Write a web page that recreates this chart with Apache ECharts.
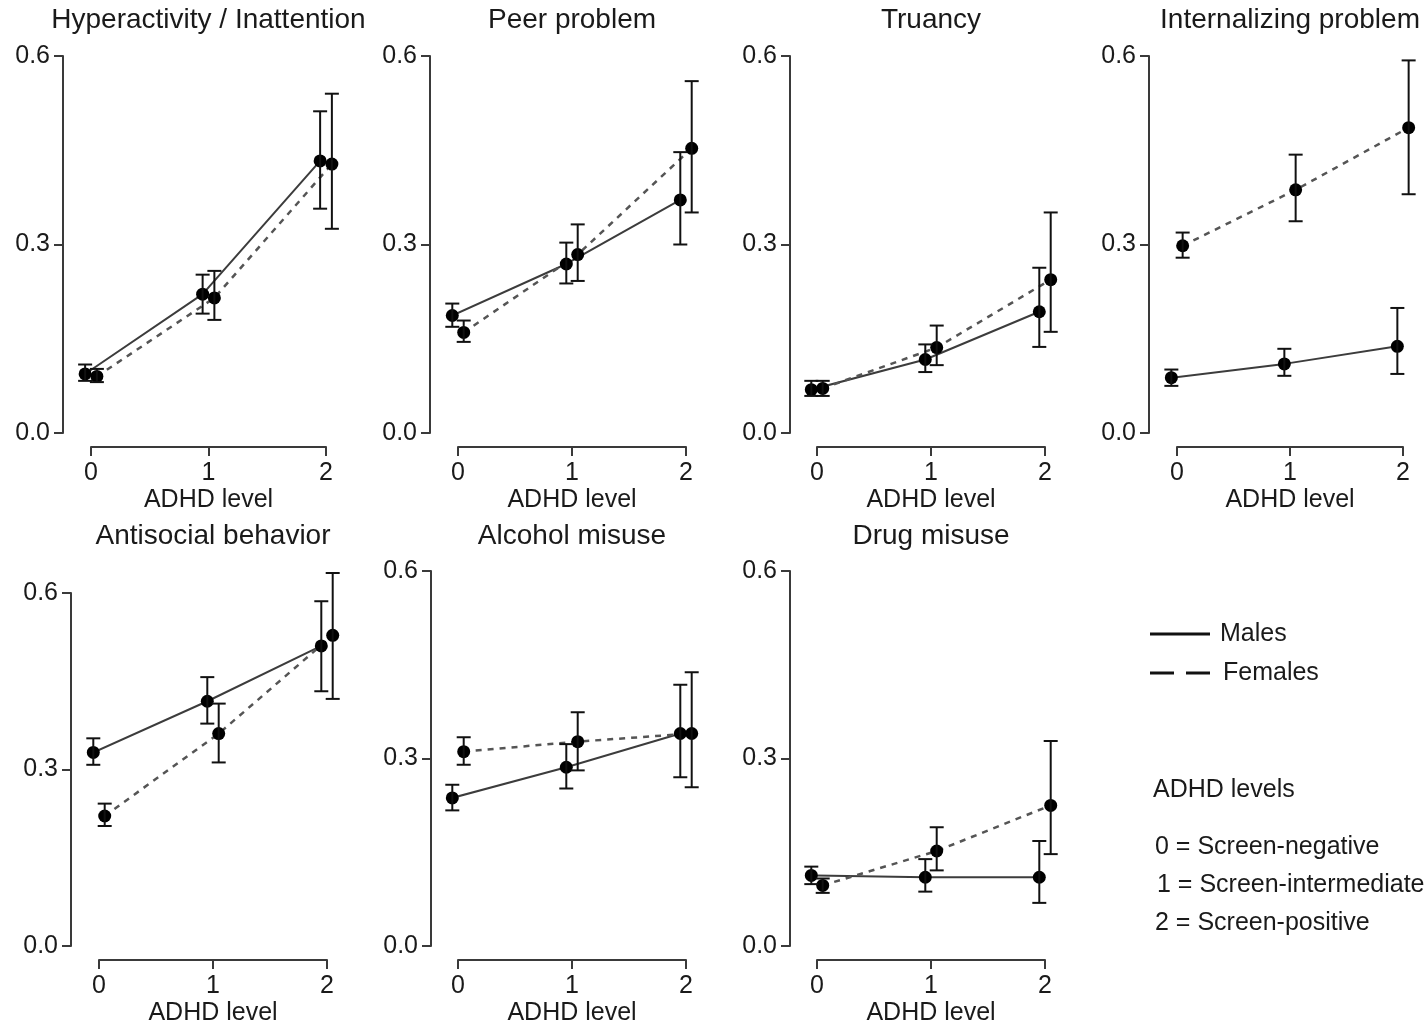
<!DOCTYPE html>
<html>
<head>
<meta charset="utf-8">
<script src="https://cdn.jsdelivr.net/npm/echarts@6/dist/echarts.min.js"></script>
<style>
html,body{margin:0;padding:0;background:#fff;}
#chart{width:1426px;height:1027px;}
</style>
</head>
<body>
<div id="chart"></div>
<script>
// ---- DATA ----
const panelTitles = ["Hyperactivity / Inattention", "Peer problem", "Truancy", "Internalizing problem",
                     "Antisocial behavior", "Alcohol misuse", "Drug misuse"];
const adhdLevels = [0, 1, 2];
const yTicks = [0.0, 0.3, 0.6];
const xAxisTitle = "ADHD level";

const maleMean = [
  [0.094, 0.221, 0.433],
  [0.187, 0.269, 0.371],
  [0.069, 0.117, 0.193],
  [0.088, 0.110, 0.138],
  [0.329, 0.416, 0.510],
  [0.237, 0.286, 0.340],
  [0.113, 0.110, 0.110]
];
const maleLow = [
  [0.083, 0.190, 0.357],
  [0.169, 0.238, 0.300],
  [0.059, 0.097, 0.137],
  [0.075, 0.091, 0.094],
  [0.308, 0.378, 0.433],
  [0.217, 0.252, 0.270],
  [0.099, 0.087, 0.069]
];
const maleHigh = [
  [0.109, 0.252, 0.512],
  [0.206, 0.303, 0.447],
  [0.083, 0.141, 0.263],
  [0.101, 0.134, 0.199],
  [0.353, 0.457, 0.586],
  [0.258, 0.323, 0.418],
  [0.127, 0.139, 0.168]
];
const femaleMean = [
  [0.090, 0.215, 0.428],
  [0.160, 0.284, 0.453],
  [0.071, 0.136, 0.244],
  [0.298, 0.387, 0.486],
  [0.221, 0.361, 0.528],
  [0.311, 0.327, 0.340],
  [0.097, 0.152, 0.225]
];
const femaleLow = [
  [0.081, 0.180, 0.325],
  [0.145, 0.242, 0.351],
  [0.059, 0.108, 0.161],
  [0.279, 0.337, 0.380],
  [0.204, 0.312, 0.420],
  [0.290, 0.281, 0.254],
  [0.085, 0.121, 0.147]
];
const femaleHigh = [
  [0.102, 0.258, 0.540],
  [0.179, 0.332, 0.560],
  [0.083, 0.171, 0.351],
  [0.319, 0.443, 0.593],
  [0.242, 0.412, 0.634],
  [0.334, 0.374, 0.438],
  [0.108, 0.190, 0.328]
];
const legendSeries = ["Males", "Females"];
const legendNotes = ["ADHD levels", "0 = Screen-negative", "1 = Screen-intermediate", "2 = Screen-positive"];

// ---- LAYOUT ----
const layout = [
  {left: 91,  width: 235, top: 56,  height: 377, yOff: 28, titleY: 20},
  {left: 458, width: 228, top: 56,  height: 377, yOff: 28, titleY: 20},
  {left: 817, width: 228, top: 56,  height: 377, yOff: 27, titleY: 20},
  {left: 1177,width: 226, top: 56,  height: 377, yOff: 28, titleY: 20},
  {left: 99,  width: 228, top: 593, height: 355, yOff: 28, titleY: 536},
  {left: 458, width: 228, top: 571, height: 377, yOff: 27, titleY: 536},
  {left: 817, width: 228, top: 571, height: 377, yOff: 27, titleY: 536}
];
const FONT = '"Liberation Sans", Arial, sans-serif';
const TXT = '#1a1a1a';
const AX = '#3a3a3a';
const SHIFT = 0.05;

const grids = [], xAxes = [], yAxes = [], series = [], graphics = [];

function errBarRender(params, api) {
  const x = api.value(0), lo = api.value(1), hi = api.value(2);
  const a = api.coord([x, lo]), b = api.coord([x, hi]);
  const cw = 7;
  const st = {stroke: '#111', lineWidth: 2};
  return {type: 'group', children: [
    {type: 'line', shape: {x1: a[0], y1: a[1], x2: b[0], y2: b[1]}, style: st},
    {type: 'line', shape: {x1: a[0]-cw, y1: a[1], x2: a[0]+cw, y2: a[1]}, style: st},
    {type: 'line', shape: {x1: b[0]-cw, y1: b[1], x2: b[0]+cw, y2: b[1]}, style: st}
  ]};
}

panelTitles.forEach((t, i) => {
  const L = layout[i];
  grids.push({left: L.left, top: L.top, width: L.width, height: L.height, containLabel: false});
  xAxes.push({
    gridIndex: i, type: 'value', min: 0, max: 2, interval: 1, offset: 14,
    axisLine: {show: true, onZero: false, lineStyle: {color: AX, width: 2}},
    axisTick: {show: true, length: 9, lineStyle: {color: AX, width: 2}},
    axisLabel: {fontSize: 25, color: TXT, fontFamily: FONT, margin: 14, formatter: v => String(adhdLevels[v] !== undefined ? adhdLevels[v] : v)},
    splitLine: {show: false},
    name: xAxisTitle, nameLocation: 'middle', nameGap: 41,
    nameTextStyle: {fontSize: 25, color: TXT, fontFamily: FONT}
  });
  yAxes.push({
    gridIndex: i, type: 'value', min: yTicks[0], max: yTicks[yTicks.length-1], interval: 0.3, offset: L.yOff,
    axisLine: {show: true, onZero: false, lineStyle: {color: AX, width: 2}},
    axisTick: {show: true, length: 9, lineStyle: {color: AX, width: 2}},
    axisLabel: {fontSize: 25, color: TXT, fontFamily: FONT, margin: 13, formatter: v => v.toFixed(1)},
    splitLine: {show: false}
  });
  graphics.push({type: 'text', silent: true, x: L.left + L.width/2, y: L.titleY,
    style: {text: t, fontSize: 28, fill: TXT, fontFamily: FONT, textAlign: 'center', textVerticalAlign: 'middle'}});

  const mData = adhdLevels.map((lv, k) => [lv - SHIFT, maleMean[i][k]]);
  const fData = adhdLevels.map((lv, k) => [lv + SHIFT, femaleMean[i][k]]);
  const mErr = adhdLevels.map((lv, k) => [lv - SHIFT, maleLow[i][k], maleHigh[i][k]]);
  const fErr = adhdLevels.map((lv, k) => [lv + SHIFT, femaleLow[i][k], femaleHigh[i][k]]);

  series.push({type: 'line', name: 'Males', xAxisIndex: i, yAxisIndex: i, data: mData, clip: false,
    symbol: 'circle', symbolSize: 13, itemStyle: {color: '#000'},
    lineStyle: {color: '#3c3c3c', width: 2, type: 'solid'}, z: 3, silent: true});
  series.push({type: 'line', name: 'Females', xAxisIndex: i, yAxisIndex: i, data: fData, clip: false,
    symbol: 'circle', symbolSize: 13, itemStyle: {color: '#000'},
    lineStyle: {color: '#555', width: 2.5, type: [6, 6]}, z: 3, silent: true});
  series.push({type: 'custom', xAxisIndex: i, yAxisIndex: i, data: mErr, clip: false,
    renderItem: errBarRender, encode: {x: 0, y: [1, 2]}, z: 4, silent: true});
  series.push({type: 'custom', xAxisIndex: i, yAxisIndex: i, data: fErr, clip: false,
    renderItem: errBarRender, encode: {x: 0, y: [1, 2]}, z: 4, silent: true});
});

// legend (graphic)
graphics.push({type: 'line', shape: {x1: 1150, y1: 634, x2: 1210, y2: 634}, style: {stroke: '#111', lineWidth: 3}});
graphics.push({type: 'line', shape: {x1: 1150, y1: 673, x2: 1174, y2: 673}, style: {stroke: '#111', lineWidth: 3}});
graphics.push({type: 'line', shape: {x1: 1186, y1: 673, x2: 1210, y2: 673}, style: {stroke: '#111', lineWidth: 3}});
const legendTextPos = [[1220, 634], [1223, 673]];
legendSeries.forEach((s, k) => {
  graphics.push({type: 'text', x: legendTextPos[k][0], y: legendTextPos[k][1],
    style: {text: s, fontSize: 25, fill: TXT, fontFamily: FONT, textAlign: 'left', textVerticalAlign: 'middle'}});
});
const notePos = [[1153, 790], [1155, 847], [1157, 885], [1155, 923]];
legendNotes.forEach((s, k) => {
  graphics.push({type: 'text', x: notePos[k][0], y: notePos[k][1],
    style: {text: s, fontSize: 25, fill: TXT, fontFamily: FONT, textAlign: 'left', textVerticalAlign: 'middle'}});
});

const chart = echarts.init(document.getElementById('chart'), null, {renderer: 'canvas'});
chart.setOption({
  animation: false,
  backgroundColor: '#fff',
  grid: grids, xAxis: xAxes, yAxis: yAxes, series: series, graphic: graphics
});
</script>
</body>
</html>
